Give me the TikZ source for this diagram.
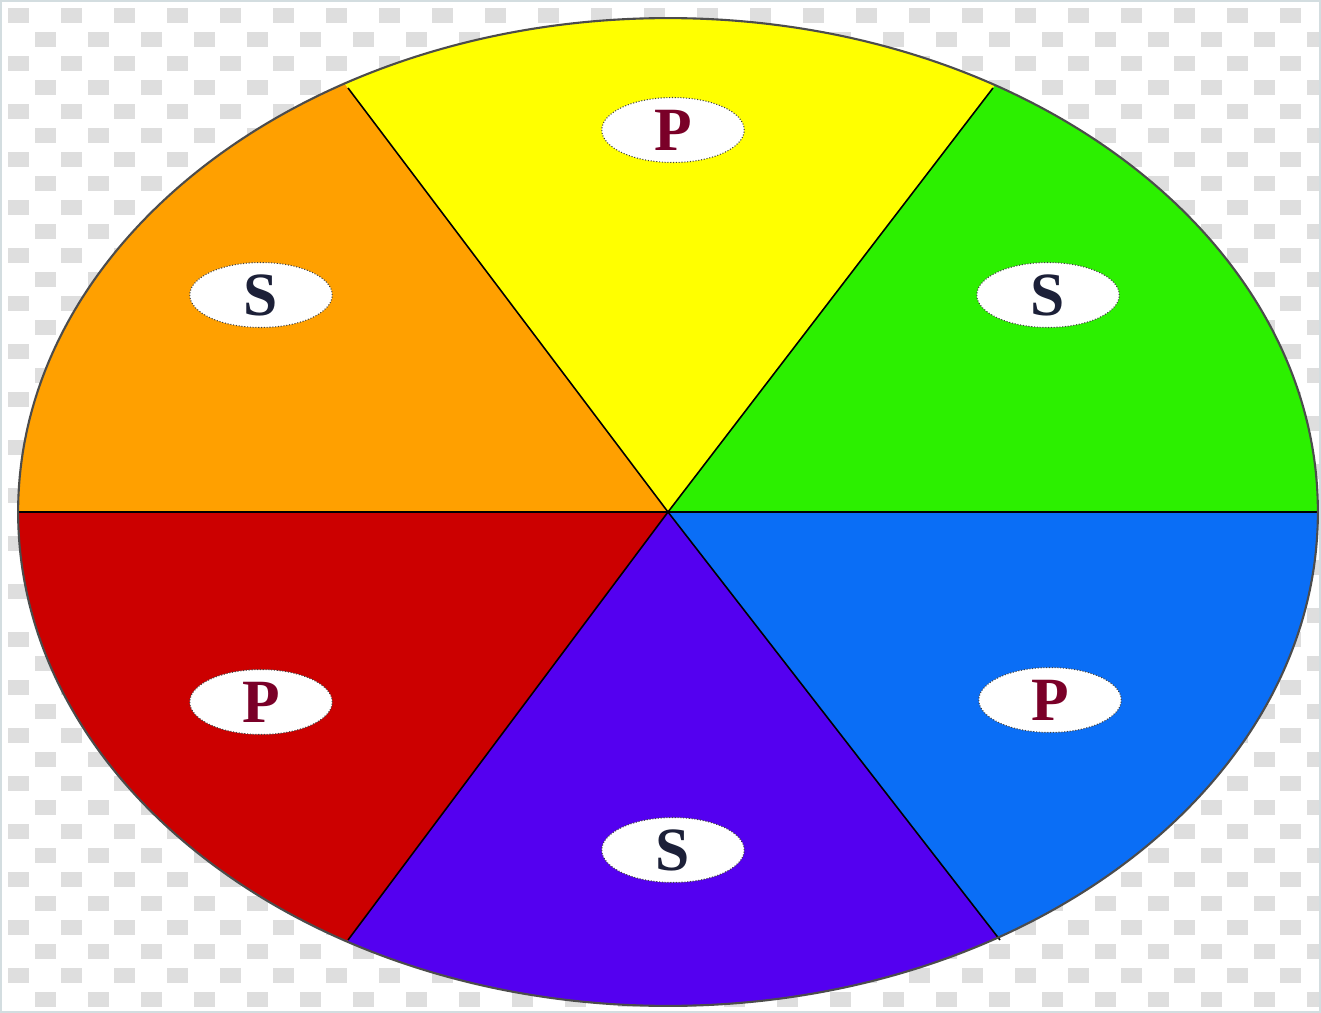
\documentclass[tikz,border=0pt]{standalone}
\usepackage{fontspec}
\setmainfont{Liberation Serif}
\usetikzlibrary{shapes.geometric}
\definecolor{WheelOrange}{HTML}{FFA000}
\definecolor{WheelYellow}{HTML}{FFFF00}
\definecolor{WheelGreen}{HTML}{2CF000}
\definecolor{WheelRed}{HTML}{CC0000}
\definecolor{WheelViolet}{HTML}{5400F0}
\definecolor{WheelBlue}{HTML}{0A6EF6}
\definecolor{PrimText}{HTML}{7A0028}
\definecolor{SecText}{HTML}{1C2038}
\definecolor{CheckGray}{HTML}{DEDEDE}
\definecolor{FrameGray}{HTML}{D3DDE0}

\begin{document}
\begin{tikzpicture}[
      x=0.02cm, y=-0.02cm,
      chk/.style={fill=CheckGray},
      divider/.style={draw=black, line width=0.9pt},
      lbl/.style={ellipse, draw=black!75, densely dotted, line width=0.6pt, fill=white, minimum width=2.85cm, minimum height=1.3cm, inner sep=0pt, font=\fontsize{35}{35}\selectfont\bfseries},
      prim/.style={lbl, text=PrimText},
      sec/.style={lbl, text=SecText}
    ]
      \useasboundingbox (0,0) rectangle (1321,1013);
      \fill[white] (0,0) rectangle (1321,1013);
      % transparency checkerboard
      \foreach \j in {0,...,42} {
        \foreach \i in {0,...,25} {
          \fill[chk] ({\i*53+mod(\j,2)*26.5+8}, {\j*24+8}) rectangle ++(21,15);
        }
      }
      \draw[FrameGray, line width=0.1cm] (0,0) rectangle (1321,1013);

      \coordinate (c) at (668,512);
      \coordinate (tl) at (348,88);
      \coordinate (tr) at (993,88);
      \coordinate (bl) at (348,940);
      \coordinate (br) at (1000,940);
      \coordinate (l) at (18,512);
      \coordinate (r) at (1318,512);
      % far points along the rays
      \coordinate (ftl) at (-292,-760);
      \coordinate (ftr) at (1643,-760);
      \coordinate (fbl) at (-292,1796);
      \coordinate (fbr) at (1664,1796);

      \begin{scope}
        \clip (c) ellipse [x radius=13cm, y radius=9.88cm];
        \fill[WheelOrange] (c) -- (ftl) -- (-1000,-760) -- (-1000,512) -- cycle;
        \fill[WheelYellow] (c) -- (ftl) -- (ftr) -- cycle;
        \fill[WheelGreen] (c) -- (ftr) -- (2500,-760) -- (2500,512) -- cycle;
        \fill[WheelBlue] (c) -- (2500,512) -- (2500,1800) -- (fbr) -- cycle;
        \fill[WheelViolet] (c) -- (fbr) -- (fbl) -- cycle;
        \fill[WheelRed] (c) -- (fbl) -- (-1000,1800) -- (-1000,512) -- cycle;
      \end{scope}

      \draw[divider] (l) -- (r);
      \draw[divider] (tl) -- (c) -- (br);
      \draw[divider] (tr) -- (c) -- (bl);
      \draw[black!70, line width=1.2pt] (c) ellipse [x radius=13cm, y radius=9.88cm];

      \node[prim] (ptop) at (673,130) {P};
      \node[sec] (sleft) at (261,295) {S};
      \node[sec] (sright) at (1048,295) {S};
      \node[prim] (pleft) at (261,702) {P};
      \node[prim] (pright) at (1050,700) {P};
      \node[sec] (sbottom) at (673,850) {S};
    \end{tikzpicture}
\end{document}
